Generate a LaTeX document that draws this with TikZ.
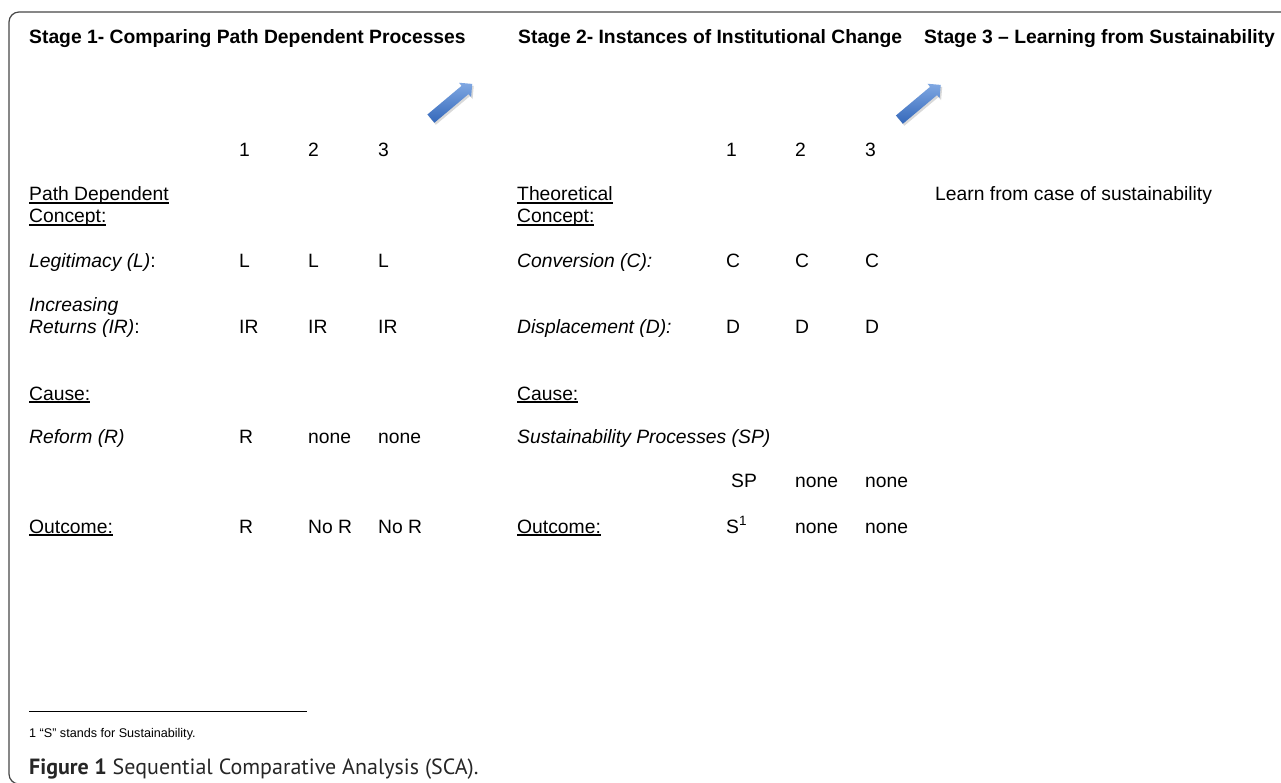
\documentclass[tikz,border=0pt]{standalone}
\usepackage{fontspec}
\setmainfont{Liberation Sans}
\newfontfamily\capfont{PT Sans}
\usetikzlibrary{shapes.arrows,shadows}
\definecolor{framegray}{RGB}{70,70,70}
\definecolor{arrowlight}{RGB}{128,168,226}
\definecolor{arrowdark}{RGB}{52,104,186}
\newcommand{\wul}[1]{\setbox0\hbox{#1}\rlap{\rule[-2.6pt]{\wd0}{1.2pt}}\box0}
\tikzset{
	txt/.style={anchor=base west, inner sep=0pt, font=\fontsize{19.3}{22.2}\selectfont},
	stagehead/.style={txt, font=\fontsize{19.3}{22.2}\selectfont\bfseries},
	notetxt/.style={anchor=base west, inner sep=0pt, font=\fontsize{12.6}{15}\selectfont},
	bluearrow/.style={single arrow, draw=none, minimum height=54pt, inner sep=5.2pt,
		single arrow head extend=4pt, top color=arrowlight, bottom color=arrowdark,
		rotate=40, drop shadow={opacity=0.3, shadow xshift=1.5pt, shadow yshift=-2pt}}
}

\begin{document}
\begin{tikzpicture}[x=1pt, y=-1pt]
			%%%%% START %%%%%
			\useasboundingbox (0,0) rectangle (1281,783);
			\draw[framegray, line width=1.2pt, rounded corners=10pt] (9,12) rectangle (1300,784);
			
			\node[stagehead] (headA) at (29,44) {Stage 1- Comparing Path Dependent Processes};
			\node[stagehead] (headB) at (518,44) {Stage 2- Instances of Institutional Change};
			\node[stagehead] (headC) at (924,44) {Stage 3 -- Learning from Sustainability};
			
			\node[bluearrow] (arrA) at (449.5,103) {};
			\node[bluearrow] (arrB) at (918,104) {};
			
			\node[txt] (numA1) at (239,157) {1};
			\node[txt] (numA2) at (308,157) {2};
			\node[txt] (numA3) at (378,157) {3};
			\node[txt] (numB1) at (726,157) {1};
			\node[txt] (numB2) at (795,157) {2};
			\node[txt] (numB3) at (865,157) {3};
			
			% stage 1
			\node[txt] (pathdep) at (29,201) {\wul{Path Dependent}};
			\node[txt] (conceptA) at (29,223) {\wul{Concept:}};
			
			\node[txt] (legit) at (29,268) {\itshape Legitimacy (L)\upshape:};
			\node[txt] (legA1) at (239,268) {L};
			\node[txt] (legA2) at (308,268) {L};
			\node[txt] (legA3) at (378,268) {L};
			
			\node[txt] (incret) at (29,312) {\itshape Increasing};
			\node[txt] (returns) at (29,333) {\itshape Returns (IR)\upshape:};
			\node[txt] (irA1) at (239,333) {IR};
			\node[txt] (irA2) at (308,333) {IR};
			\node[txt] (irA3) at (378,333) {IR};
			
			\node[txt] (causeA) at (29,400) {\wul{Cause:}};
			\node[txt] (reform) at (29,443) {\itshape Reform (R)};
			\node[txt] (refA1) at (239,443) {R};
			\node[txt] (refA2) at (308,443) {none};
			\node[txt] (refA3) at (378,443) {none};
			
			\node[txt] (outcomeA) at (29,533) {\wul{Outcome:}};
			\node[txt] (outA1) at (239,533) {R};
			\node[txt] (outA2) at (308,533) {No R};
			\node[txt] (outA3) at (378,533) {No R};
			
			% stage 2
			\node[txt] (theo) at (517,201) {\wul{Theoretical}};
			\node[txt] (conceptB) at (517,223) {\wul{Concept:}};
			
			\node[txt] (conv) at (517,268) {\itshape Conversion (C):};
			\node[txt] (convB1) at (726,268) {C};
			\node[txt] (convB2) at (795,268) {C};
			\node[txt] (convB3) at (865,268) {C};
			
			\node[txt] (displ) at (517,333) {\itshape Displacement (D):};
			\node[txt] (dispB1) at (726,333) {D};
			\node[txt] (dispB2) at (795,333) {D};
			\node[txt] (dispB3) at (865,333) {D};
			
			\node[txt] (causeB) at (517,400) {\wul{Cause:}};
			\node[txt] (susproc) at (517,443) {\itshape Sustainability Processes (SP)};
			\node[txt] (spB1) at (731,487) {SP};
			\node[txt] (spB2) at (795,487) {none};
			\node[txt] (spB3) at (865,487) {none};
			
			\node[txt] (outcomeB) at (517,533) {\wul{Outcome:}};
			\node[txt] (outB1) at (726,533) {S\textsuperscript{1}};
			\node[txt] (outB2) at (795,533) {none};
			\node[txt] (outB3) at (865,533) {none};
			
			% stage 3
			\node[txt] (learn) at (935,201) {Learn from case of sustainability};
			
			% footnote and caption
			\draw[line width=0.9pt] (29,711) -- (307,711);
			\node[notetxt] (fnote) at (29,737) {1 “S” stands for Sustainability.};
			\node[anchor=base west, inner sep=0pt, text=black!85, font=\capfont\fontsize{22}{26}\selectfont] (caption) at (29,774) {\textbf{Figure 1} Sequential Comparative Analysis (SCA).};
			%%%%% END %%%%%
\end{tikzpicture}
\end{document}
